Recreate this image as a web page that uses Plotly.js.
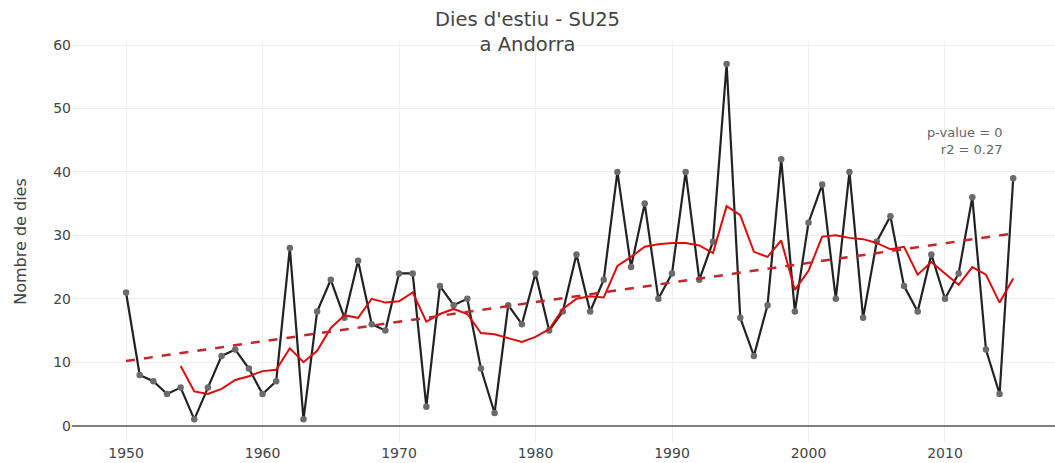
<!DOCTYPE html>
<html>
<head>
<meta charset="utf-8">
<script src="https://cdn.plot.ly/plotly-3.0.1.min.js"></script>
<style>html,body{margin:0;padding:0;background:#fff;}#chart{width:1055px;height:463px;}</style>
</head>
<body>
<div id="chart"></div>
<script>
const years = [1950,1951,1952,1953,1954,1955,1956,1957,1958,1959,1960,1961,1962,1963,1964,1965,1966,1967,1968,1969,1970,1971,1972,1973,1974,1975,1976,1977,1978,1979,1980,1981,1982,1983,1984,1985,1986,1987,1988,1989,1990,1991,1992,1993,1994,1995,1996,1997,1998,1999,2000,2001,2002,2003,2004,2005,2006,2007,2008,2009,2010,2011,2012,2013,2014,2015];
const su25 = [21,8,7,5,6,1,6,11,12,9,5,7,28,1,18,23,17,26,16,15,24,24,3,22,19,20,9,2,19,16,24,15,18,27,18,23,40,25,35,20,24,40,23,29,57,17,11,19,42,18,32,38,20,40,17,29,33,22,18,27,20,24,36,12,5,39];
const maYears = years.slice(4);
const maValues = [9.4,5.4,5.0,5.8,7.2,7.8,8.6,8.8,12.2,10.0,11.8,15.4,17.4,17.0,20.0,19.4,19.6,21.0,16.4,17.6,18.4,17.6,14.6,14.4,13.8,13.2,14.0,15.2,18.4,20.0,20.4,20.2,25.2,26.6,28.2,28.6,28.8,28.8,28.4,27.2,34.6,33.2,27.4,26.6,29.2,21.4,24.4,29.8,30.0,29.6,29.4,28.8,27.8,28.2,23.8,25.8,24.0,22.2,25.0,23.8,19.4,23.2];
const trendYears = [1950, 2015];
const trendValues = [10.2, 30.3];
const statsText = "p-value = 0<br>r2 = 0.27";

const font = "'DejaVu Sans', Verdana, sans-serif";

const traces = [
  {x: years, y: su25, type: 'scatter', mode: 'lines+markers',
   line: {color: '#222222', width: 2.2}, marker: {color: '#6b6b6b', size: 6.5}, showlegend: false},
  {x: maYears, y: maValues, type: 'scatter', mode: 'lines',
   line: {color: '#dd0b0b', width: 2}, showlegend: false},
  {x: trendYears, y: trendValues, type: 'scatter', mode: 'lines',
   line: {color: '#c1272d', width: 2.5, dash: 'dash'}, showlegend: false}
];

const layout = {
  width: 1055, height: 463,
  margin: {l: 72, r: 0, t: 40, b: 20},
  paper_bgcolor: '#fff', plot_bgcolor: '#fff',
  font: {family: font, color: '#444', size: 14},
  title: {text: "Dies d'estiu - SU25<br>a Andorra", x: 0.5, xanchor: 'center', y: 0.944, yanchor: 'top',
          font: {family: font, size: 19.5, color: '#444'}},
  xaxis: {range: [1946.04, 2018.06], tickvals: [1950,1960,1970,1980,1990,2000,2010],
          showgrid: true, gridcolor: '#eeeeee', zeroline: false, showline: false, ticks: '',
          tickfont: {size: 14, color: '#444'}},
  yaxis: {range: [-2.73, 60.79], tickvals: [0,10,20,30,40,50,60],
          showgrid: true, gridcolor: '#eeeeee', zeroline: true, zerolinecolor: '#808080', zerolinewidth: 2,
          showline: false, ticks: '', tickfont: {size: 14, color: '#444'}, automargin: false,
          title: {text: 'Nombre de dies', font: {size: 16, color: '#444'}, standoff: 22}},
  annotations: [{x: 2014.4, y: 44.8, xref: 'x', yref: 'y', text: statsText, showarrow: false,
                 xanchor: 'right', yanchor: 'middle', align: 'right',
                 font: {size: 13, color: '#666'}}]
};

Plotly.newPlot('chart', traces, layout, {displayModeBar: false, staticPlot: true});
</script>
</body>
</html>
